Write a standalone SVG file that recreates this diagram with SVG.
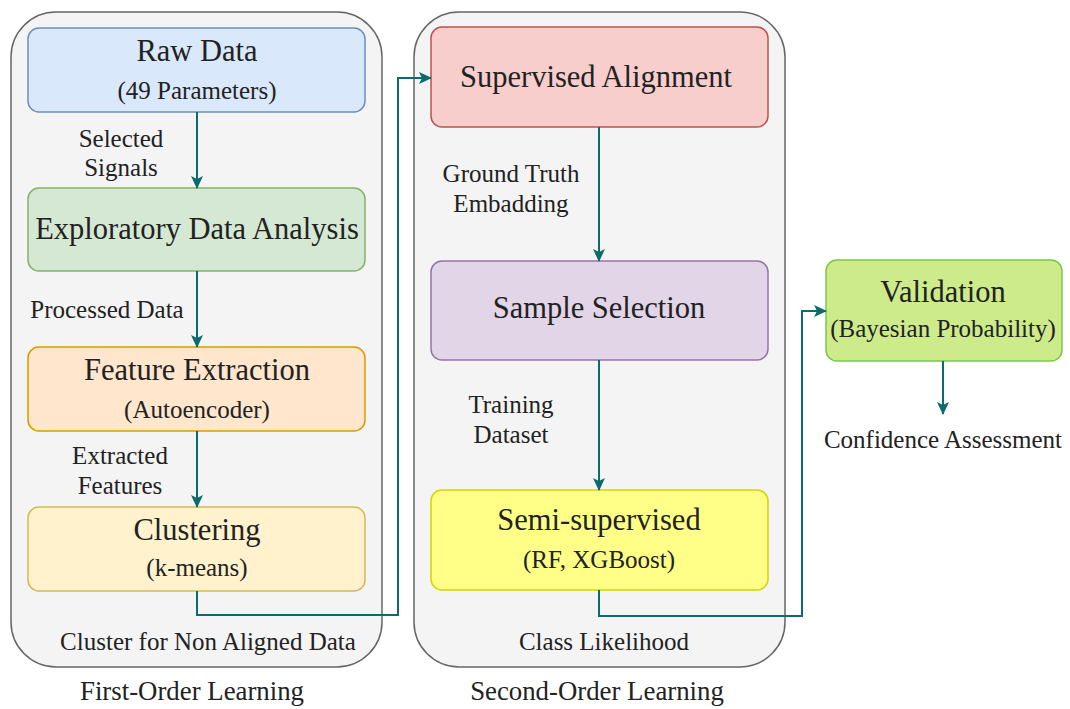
<svg xmlns="http://www.w3.org/2000/svg" width="1070" height="709" viewBox="0 0 1070 709">
<style>
text{font-family:"Liberation Serif","Times New Roman",serif;fill:#222;text-anchor:middle}
.t{font-size:30.5px}
.s{font-size:25px}
.l{font-size:25px}
.b{font-size:26.8px}
.c{fill:#f4f4f4;stroke:#666;stroke-width:1.5}
.e{fill:none;stroke:#0e6b6b;stroke-width:2}
</style>
<defs>
<marker id="ah" markerUnits="userSpaceOnUse" markerWidth="14" markerHeight="14" refX="12" refY="7" orient="auto">
<path d="M0,1 L13,7 L0,13 L3,7 z" fill="#0e6b6b"/>
</marker>
</defs>
<g id="first-order">
<rect class="c" x="11" y="12" width="371" height="655" rx="45"/>
<text class="l" x="208" y="650">Cluster for Non Aligned Data</text>
<text class="b" x="192" y="700">First-Order Learning</text>
</g>
<g id="second-order">
<rect class="c" x="414" y="12" width="371" height="655" rx="45"/>
<text class="l" x="604" y="650">Class Likelihood</text>
<text class="b" x="597" y="700">Second-Order Learning</text>
</g>
<g id="raw-data">
<rect x="28" y="28" width="337" height="84" rx="11" fill="#dae8fc" stroke="#6c8ebf" stroke-width="1.5"/>
<text class="t" x="197" y="61">Raw Data</text>
<text class="s" x="197" y="99">(49 Parameters)</text>
</g>
<g id="eda">
<rect x="28" y="188" width="337" height="83" rx="11" fill="#d5e8d4" stroke="#82b366" stroke-width="1.5"/>
<text class="t" x="197" y="239">Exploratory Data Analysis</text>
</g>
<g id="feature-extraction">
<rect x="28" y="347" width="337" height="84" rx="11" fill="#ffe6cc" stroke="#d79b00" stroke-width="1.5"/>
<text class="t" x="197" y="380">Feature Extraction</text>
<text class="s" x="197" y="418">(Autoencoder)</text>
</g>
<g id="clustering">
<rect x="28" y="507" width="337" height="84" rx="11" fill="#fff2cc" stroke="#d6b656" stroke-width="1.5"/>
<text class="t" x="197" y="540">Clustering</text>
<text class="s" x="197" y="576">(k-means)</text>
</g>
<g id="supervised-alignment">
<rect x="431" y="27" width="337" height="100" rx="11" fill="#f8cecc" stroke="#b85450" stroke-width="1.5"/>
<text class="t" x="596" y="87">Supervised Alignment</text>
</g>
<g id="sample-selection">
<rect x="431" y="261" width="337" height="99" rx="11" fill="#e1d5e7" stroke="#9673a6" stroke-width="1.5"/>
<text class="t" x="599" y="318">Sample Selection</text>
</g>
<g id="semi-supervised">
<rect x="431" y="490" width="337" height="100" rx="11" fill="#ffff88" stroke="#d4d400" stroke-width="1.5"/>
<text class="t" x="599" y="530">Semi-supervised</text>
<text class="s" x="599" y="568">(RF, XGBoost)</text>
</g>
<g id="validation">
<rect x="826" y="260" width="236" height="101" rx="11" fill="#cdeb8b" stroke="#7ac943" stroke-width="1.5"/>
<text class="t" x="943" y="302">Validation</text>
<text class="s" x="943" y="337">(Bayesian Probability)</text>
</g>
<g id="confidence">
<text class="l" x="943" y="448">Confidence Assessment</text>
</g>
<g id="connectors">
<path class="e" d="M197,112 V188" marker-end="url(#ah)"/>
<path class="e" d="M197,271 V347" marker-end="url(#ah)"/>
<path class="e" d="M197,431 V507" marker-end="url(#ah)"/>
<path class="e" d="M197,591 V615 H398 V78 H431" marker-end="url(#ah)"/>
<path class="e" d="M599,127 V261" marker-end="url(#ah)"/>
<path class="e" d="M599,360 V490" marker-end="url(#ah)"/>
<path class="e" d="M599,590 V616 H802 V311 H826" marker-end="url(#ah)"/>
<path class="e" d="M943,361 V414" marker-end="url(#ah)"/>
<text class="l" x="121" y="147">Selected</text>
<text class="l" x="121" y="176">Signals</text>
<text class="l" x="107" y="318">Processed Data</text>
<text class="l" x="120" y="464">Extracted</text>
<text class="l" x="120" y="494">Features</text>
<text class="l" x="511" y="182">Ground Truth</text>
<text class="l" x="511" y="212">Embadding</text>
<text class="l" x="511" y="413">Training</text>
<text class="l" x="511" y="443">Dataset</text>
</g>
</svg>
